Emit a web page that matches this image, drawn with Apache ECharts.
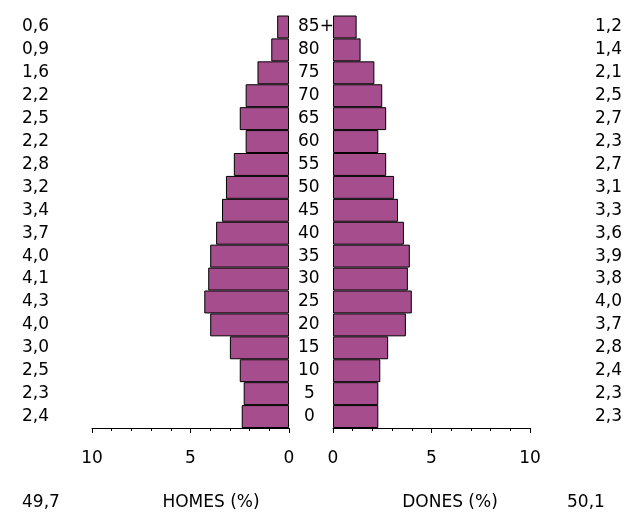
<!DOCTYPE html>
<html>
<head>
<meta charset="utf-8">
<script src="https://cdn.jsdelivr.net/npm/echarts@6/dist/echarts.min.js"></script>
<style>
  html, body { margin: 0; padding: 0; background: #fff; }
  #main { width: 625px; height: 513px; }
</style>
</head>
<body>
<div id="main"></div>
<script>
// age groups, bottom to top
const ages = ['0', '5', '10', '15', '20', '25', '30', '35', '40', '45', '50', '55', '60', '65', '70', '75', '80', '85+']
const homes = [2.4, 2.3, 2.5, 3.0, 4.0, 4.3, 4.1, 4.0, 3.7, 3.4, 3.2, 2.8, 2.2, 2.5, 2.2, 1.6, 0.9, 0.6]
const dones = [2.3, 2.3, 2.4, 2.8, 3.7, 4.0, 3.8, 3.9, 3.6, 3.3, 3.1, 2.7, 2.3, 2.7, 2.5, 2.1, 1.4, 1.2]
const totalHomes = '49,7'
const totalDones = '50,1'

const font = 'DejaVu Sans'
const fs = 17
const barColor = '#a64d8d'
const comma = v => v.toFixed(1).replace('.', ',')

const chart = echarts.init(document.getElementById('main'))

const xAxisBase = {
  type: 'value',
  min: 0,
  max: 10,
  interval: 5,
  axisLine: { show: true, lineStyle: { color: '#000', width: 1 } },
  axisTick: { show: true, length: 5, lineStyle: { color: '#000' } },
  minorTick: { show: true, splitNumber: 5, length: 3, lineStyle: { color: '#000' } },
  splitLine: { show: false },
  axisLabel: { color: '#000', fontFamily: font, fontSize: fs, margin: 22 }
}

const catBase = {
  type: 'category',
  data: ages,
  axisLine: { show: false },
  axisTick: { show: false },
  splitLine: { show: false }
}

const option = {
  animation: false,
  grid: [
    { left: 92, width: 197, top: 15.5, height: 412.5 },
    { left: 333, width: 197, top: 15.5, height: 412.5 }
  ],
  xAxis: [
    Object.assign({}, xAxisBase, { gridIndex: 0, inverse: true }),
    Object.assign({}, xAxisBase, { gridIndex: 1 })
  ],
  yAxis: [
    Object.assign({}, catBase, {
      gridIndex: 0,
      position: 'left',
      axisLabel: {
        color: '#000', fontFamily: font, fontSize: fs, align: 'left', margin: 70,
        formatter: (v, i) => comma(homes[i])
      }
    }),
    Object.assign({}, catBase, {
      gridIndex: 1,
      position: 'left',
      axisLabel: {
        color: '#000', fontFamily: font, fontSize: fs, align: 'left', margin: 35,
        formatter: v => v.length === 1 ? '{one|' + v + '}' : v,
        rich: { one: { fontFamily: font, fontSize: fs, color: '#000', padding: [0, 0, 0, 6] } }
      }
    }),
    Object.assign({}, catBase, {
      gridIndex: 1,
      position: 'right',
      axisLabel: {
        color: '#000', fontFamily: font, fontSize: fs, align: 'left', margin: 65,
        formatter: (v, i) => comma(dones[i])
      }
    })
  ],
  series: [
    {
      name: 'HOMES',
      type: 'bar',
      xAxisIndex: 0,
      yAxisIndex: 0,
      barCategoryGap: 0,
      itemStyle: { color: barColor, borderColor: '#000', borderWidth: 1 },
      data: homes
    },
    {
      name: 'DONES',
      type: 'bar',
      xAxisIndex: 1,
      yAxisIndex: 1,
      barCategoryGap: 0,
      itemStyle: { color: barColor, borderColor: '#000', borderWidth: 1 },
      data: dones
    }
  ],
  graphic: [
    { type: 'text', x: 22, y: 503, style: { text: totalHomes, font: fs + 'px ' + font, fill: '#000', align: 'left', verticalAlign: 'middle' } },
    { type: 'text', x: 211, y: 503, style: { text: 'HOMES (%)', font: fs + 'px ' + font, fill: '#000', align: 'center', verticalAlign: 'middle' } },
    { type: 'text', x: 450, y: 503, style: { text: 'DONES (%)', font: fs + 'px ' + font, fill: '#000', align: 'center', verticalAlign: 'middle' } },
    { type: 'text', x: 567, y: 503, style: { text: totalDones, font: fs + 'px ' + font, fill: '#000', align: 'left', verticalAlign: 'middle' } }
  ]
}

chart.setOption(option)
</script>
</body>
</html>
